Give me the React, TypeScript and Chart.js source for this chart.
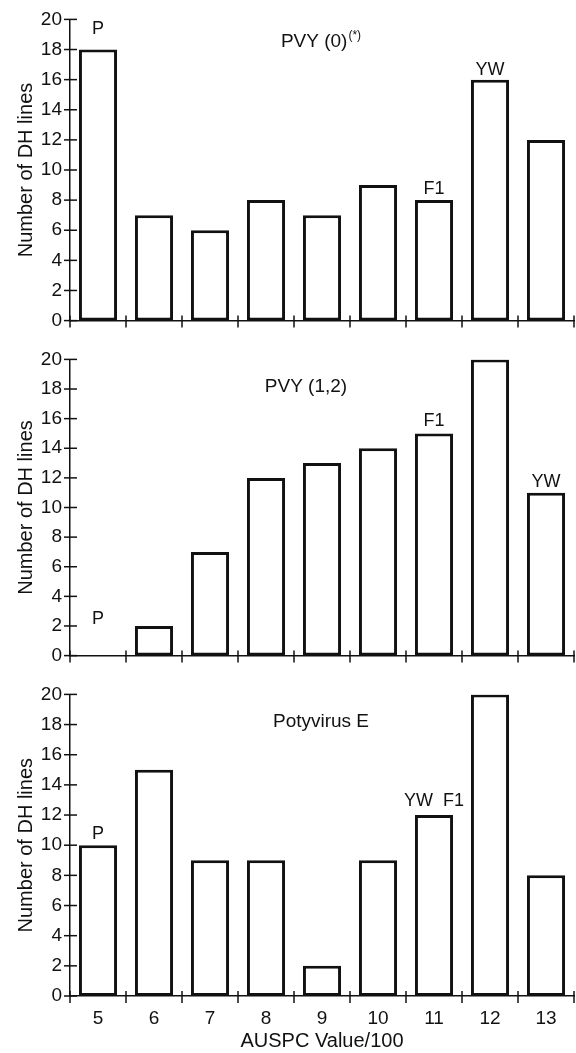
import React, { useEffect, useRef } from 'react';
import { Chart, registerables } from 'chart.js';

Chart.register(...registerables);

const FONT = '"Liberation Sans", Arial, Helvetica, sans-serif';

const categories = ['5', '6', '7', '8', '9', '10', '11', '12', '13'];
const pvy0Values = [18, 7, 6, 8, 7, 9, 8, 16, 12];
const pvy12Values = [0, 2, 7, 12, 13, 14, 15, 20, 11];
const potyEValues = [10, 15, 9, 9, 2, 9, 12, 20, 8];

const yMin = 0;
const yMax = 20;
const yStep = 2;

const yAxisTitle = 'Number of DH lines';
const xAxisTitle = 'AUSPC Value/100';

const pvy0Title = 'PVY (0)';
const pvy0TitleSup = '(*)';
const pvy12Title = 'PVY (1,2)';
const potyETitle = 'Potyvirus E';

// annotation labels: category, text, value at which the text baseline sits
const pvy0Notes = [
  { cat: '5', text: 'P', y: 19.0 },
  { cat: '11', text: 'F1', y: 8.4 },
  { cat: '12', text: 'YW', y: 16.3 },
];
const pvy12Notes = [
  { cat: '5', text: 'P', y: 2.1 },
  { cat: '11', text: 'F1', y: 15.5 },
  { cat: '13', text: 'YW', y: 11.4 },
];
const potyENotes = [
  { cat: '5', text: 'P', y: 10.4 },
  { cat: '11', text: 'YW  F1', y: 12.6 },
];

type Note = { cat: string; text: string; y: number };

const decorPlugin = {
  id: 'panelDecor',
  afterDraw(chart: any, _args: any, opts: any) {
    const { ctx } = chart;
    const xs = chart.scales.x;
    const ys = chart.scales.y;
    ctx.save();
    ctx.strokeStyle = '#111';
    ctx.lineWidth = 1.5;
    const line = (x1: number, y1: number, x2: number, y2: number) => {
      ctx.beginPath();
      ctx.moveTo(x1, y1);
      ctx.lineTo(x2, y2);
      ctx.stroke();
    };
    ys.ticks.forEach((t: any) => {
      const py = ys.getPixelForValue(t.value);
      line(xs.left - 6, py, xs.left + 7, py);
    });
    for (let i = 0; i <= categories.length; i++) {
      const px = xs.getPixelForValue(i - 0.5);
      line(px, ys.bottom - 5, px, ys.bottom + 7);
    }
    ctx.fillStyle = '#111';
    ctx.textBaseline = 'alphabetic';
    ctx.textAlign = 'center';
    ctx.font = `18px ${FONT}`;
    (opts.notes as Note[]).forEach((n) => {
      const px = xs.getPixelForValue(categories.indexOf(n.cat));
      const py = ys.getPixelForValue(n.y);
      ctx.fillText(n.text, px, py);
    });
    // panel title
    ctx.textAlign = 'left';
    ctx.font = `19px ${FONT}`;
    const mainW = ctx.measureText(opts.title).width;
    let supW = 0;
    if (opts.sup) {
      ctx.font = `12px ${FONT}`;
      supW = ctx.measureText(opts.sup).width + 1;
    }
    const startX = opts.titleX - (mainW + supW) / 2;
    const baseY = ys.getPixelForValue(opts.titleY);
    ctx.font = `19px ${FONT}`;
    ctx.fillText(opts.title, startX, baseY);
    if (opts.sup) {
      ctx.font = `12px ${FONT}`;
      ctx.fillText(opts.sup, startX + mainW + 1, baseY - 8);
    }
    ctx.restore();
  },
};

type PanelProps = {
  values: number[];
  notes: Note[];
  title: string;
  sup?: string;
  titleX: number;
  titleY: number;
  showX: boolean;
  height: number;
  top: number;
  padTop: number;
  xHeight: number;
};

function Panel(p: PanelProps) {
  const ref = useRef<HTMLCanvasElement | null>(null);
  useEffect(() => {
    if (!ref.current) return;
    const chart = new Chart(ref.current, {
      type: 'bar',
      data: {
        labels: categories,
        datasets: [
          {
            data: p.values,
            backgroundColor: '#ffffff',
            borderColor: '#111111',
            borderWidth: 3,
            borderSkipped: false,
            barPercentage: 0.68,
            categoryPercentage: 1,
          },
        ],
      },
      options: {
        animation: false,
        responsive: false,
        layout: { padding: { top: p.padTop, right: 2, left: 0, bottom: 0 } },
        plugins: {
          legend: { display: false },
          tooltip: { enabled: false },
          panelDecor: {
            notes: p.notes,
            title: p.title,
            sup: p.sup,
            titleX: p.titleX,
            titleY: p.titleY,
          },
        } as any,
        scales: {
          x: {
            grid: { display: false, drawTicks: false },
            border: { display: true, color: '#111', width: 1.5 },
            ticks: {
              display: p.showX,
              color: '#111',
              font: { family: FONT, size: 19 },
              padding: 11,
              maxRotation: 0,
              autoSkip: false,
            },
            title: {
              display: p.showX,
              text: xAxisTitle,
              color: '#111',
              font: { family: FONT, size: 20 },
              padding: { top: 0, bottom: 0 },
            },
            afterFit: (s: any) => {
              s.height = p.xHeight;
            },
          },
          y: {
            min: yMin,
            max: yMax,
            grid: { display: false, drawTicks: false },
            border: { display: true, color: '#111', width: 1.5 },
            ticks: {
              stepSize: yStep,
              color: '#111',
              font: { family: FONT, size: 19 },
              padding: 8,
            },
            title: {
              display: true,
              text: yAxisTitle,
              color: '#111',
              font: { family: FONT, size: 20 },
              padding: { top: 14, bottom: 0 },
            },
            afterFit: (s: any) => {
              s.width = 70;
            },
          },
        },
      },
      plugins: [decorPlugin],
    });
    return () => chart.destroy();
  }, []);
  return (
    <canvas
      ref={ref}
      width={576}
      height={p.height}
      style={{ position: 'absolute', left: 0, top: p.top, width: 576, height: p.height }}
    />
  );
}

export default function App() {
  return (
    <div style={{ position: 'absolute', left: 0, top: 0, width: 576, height: 1053, background: '#fff' }}>
      <Panel values={pvy0Values} notes={pvy0Notes} title={pvy0Title} sup={pvy0TitleSup}
        titleX={321} titleY={18.2} showX={false} height={340} top={0} padTop={19} xHeight={15} />
      <Panel values={pvy12Values} notes={pvy12Notes} title={pvy12Title}
        titleX={306} titleY={17.8} showX={false} height={335} top={340} padTop={14} xHeight={15} />
      <Panel values={potyEValues} notes={potyENotes} title={potyETitle}
        titleX={321} titleY={17.85} showX={true} height={378} top={675} padTop={14} xHeight={57} />
    </div>
  );
}
